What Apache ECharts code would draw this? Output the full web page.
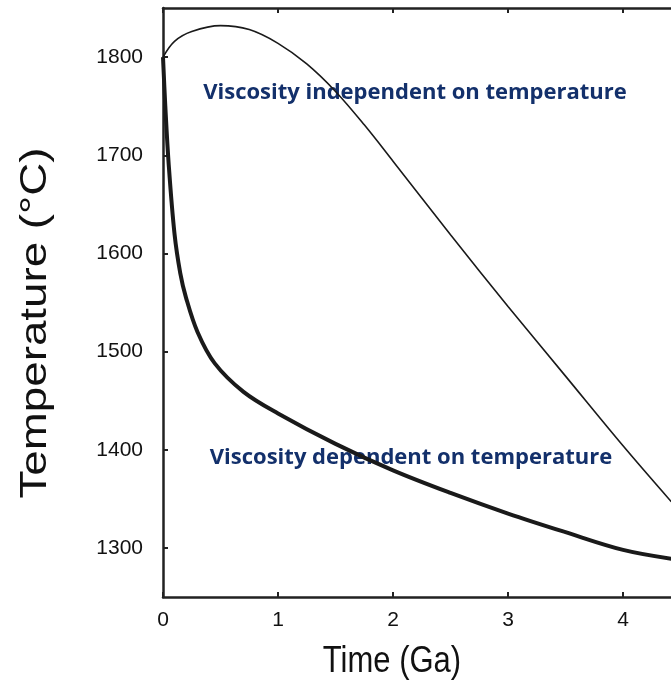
<!DOCTYPE html>
<html>
<head>
<meta charset="utf-8">
<script src="https://cdn.jsdelivr.net/npm/echarts@6/dist/echarts.min.js"></script>
<style>
  html, body { margin: 0; padding: 0; background: #fff; }
  #chart { width: 671px; height: 690px; }
</style>
</head>
<body>
<div id="chart"></div>
<script>
// time in Ga
var indepTime = [0, 0.1, 0.25, 0.5, 0.75, 1.0, 1.25, 1.5, 1.75, 2.0, 2.5, 3.0, 3.5, 4.0, 4.42];
var indepTemp = [1800, 1816, 1826, 1832, 1828, 1814, 1793, 1765, 1731, 1694, 1619, 1546, 1475, 1404, 1347];

var depTime = [0, 0.02, 0.05, 0.1, 0.15, 0.2, 0.3, 0.45, 0.7, 1.0, 1.5, 2.0, 2.5, 3.0, 3.5, 4.0, 4.42];
var depTemp = [1800, 1750, 1690, 1620, 1580, 1555, 1520, 1488, 1459, 1437, 1406, 1379, 1356, 1335, 1316, 1298, 1289];

var xTicks = [0, 1, 2, 3, 4];
var yTicks = [1300, 1400, 1500, 1600, 1700, 1800];

function pairs(xs, ys) {
  return xs.map(function (x, i) { return [x, ys[i]]; });
}

var chart = echarts.init(document.getElementById('chart'));
var font = '"Liberation Sans", Arial, sans-serif';
var noteFont = 'bold 22px "Open Sans", Lato, sans-serif';
var axisCol = '#222';

chart.setOption({
  animation: false,
  grid: { left: 163, top: 8, right: 0, bottom: 93 },
  xAxis: [{
    type: 'value',
    min: 0,
    max: 4.417,
    axisLine: { show: true, lineStyle: { color: axisCol, width: 2.5 } },
    axisTick: { show: true, inside: true, length: 5, lineStyle: { color: axisCol, width: 2 }, customValues: xTicks },
    axisLabel: { fontFamily: font, fontSize: 21, color: '#111', margin: 13, customValues: xTicks },
    splitLine: { show: false }
  }, {
    type: 'value',
    position: 'top',
    min: 0,
    max: 4.417,
    axisLine: { show: true, lineStyle: { color: axisCol, width: 2.5 } },
    axisTick: { show: true, inside: true, length: 5, lineStyle: { color: axisCol, width: 2 }, customValues: xTicks },
    axisLabel: { show: false },
    splitLine: { show: false }
  }],
  yAxis: {
    type: 'value',
    min: 1250,
    max: 1850,
    axisLine: { show: true, lineStyle: { color: axisCol, width: 2.5 } },
    axisTick: { show: true, inside: true, length: 5, lineStyle: { color: axisCol, width: 2 }, customValues: yTicks },
    axisLabel: {
      fontFamily: font, fontSize: 21, color: '#111', margin: 20, customValues: yTicks,
      formatter: function (v) { return String(v); }
    },
    splitLine: { show: false }
  },
  series: [{
    name: 'independent',
    type: 'line',
    smooth: 0.35,
    symbol: 'none',
    data: pairs(indepTime, indepTemp),
    lineStyle: { color: '#1a1a1a', width: 1.6 }
  }, {
    name: 'dependent',
    type: 'line',
    smooth: 0.35,
    symbol: 'none',
    data: pairs(depTime, depTemp),
    lineStyle: { color: '#1a1a1a', width: 4 }
  }],
  graphic: [{
    // axis titles, stretched vertically like the source figure
    type: 'text',
    x: 36,
    y: 323,
    rotation: Math.PI / 2,
    scaleX: 1.27,
    style: {
      text: 'Temperature (\u00B0C)',
      font: '36px "Liberation Sans", Arial, sans-serif',
      fill: '#111',
      align: 'center',
      verticalAlign: 'middle'
    }
  }, {
    type: 'text',
    x: 392,
    y: 662,
    scaleY: 1.2,
    style: {
      text: 'Time (Ga)',
      font: '31px "Liberation Sans", Arial, sans-serif',
      fill: '#111',
      align: 'center',
      verticalAlign: 'middle'
    }
  }, {
    type: 'text',
    x: 415,
    y: 93,
    style: { text: 'Viscosity independent on temperature', font: noteFont, fill: '#13306b', align: 'center', verticalAlign: 'middle' }
  }, {
    type: 'text',
    x: 411,
    y: 458,
    style: { text: 'Viscosity dependent on temperature', font: noteFont, fill: '#13306b', align: 'center', verticalAlign: 'middle' }
  }]
});
</script>
</body>
</html>
